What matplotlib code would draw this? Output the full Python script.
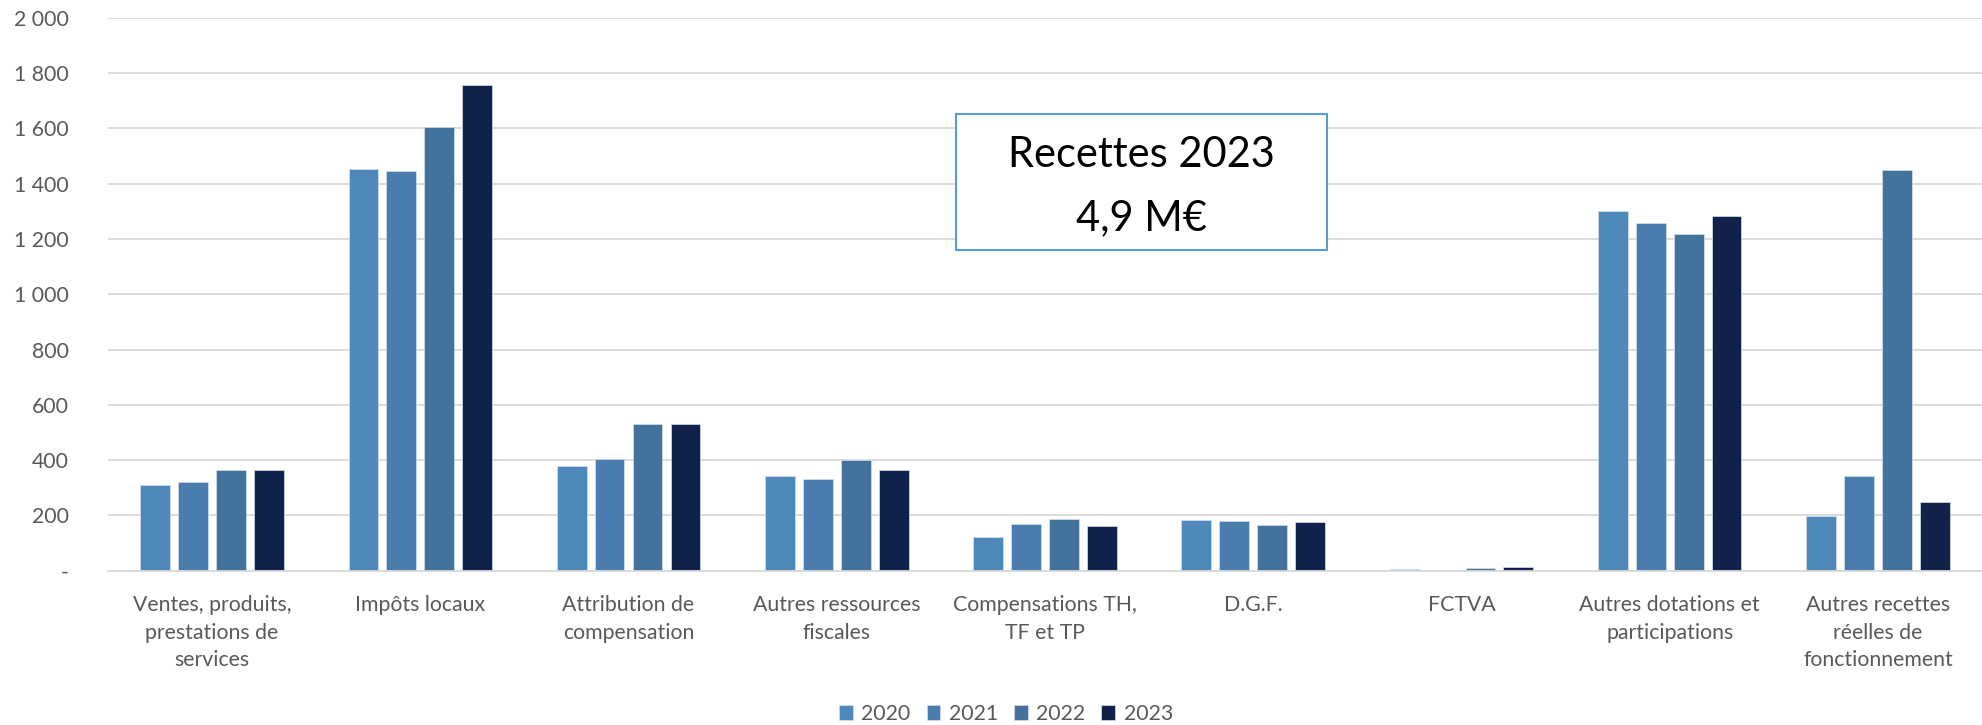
import numpy as np
import matplotlib
matplotlib.use('Agg')
import matplotlib.pyplot as plt
from matplotlib.ticker import FuncFormatter, MultipleLocator
from matplotlib.patches import Rectangle

plt.rcParams['font.family'] = ['Lato', 'DejaVu Sans']

categories = ['Ventes, produits,\nprestations de\nservices', 'Impôts locaux',
              'Attribution de\ncompensation', 'Autres ressources\nfiscales',
              'Compensations TH,\nTF et TP', 'D.G.F.', 'FCTVA',
              'Autres dotations et\nparticipations',
              'Autres recettes\nréelles de\nfonctionnement']
years = ['2020', '2021', '2022', '2023']
v2020 = [310, 1452, 378, 342, 122, 184, 5, 1301, 198]
v2021 = [322, 1447, 403, 333, 170, 178, 4, 1257, 342]
v2022 = [364, 1604, 529, 399, 188, 167, 8, 1218, 1449]
v2023 = [365, 1758, 529, 364, 162, 176, 13, 1283, 250]
colors = ['#4F89BB', '#4A7DAE', '#43729D', '#10224B']

fig = plt.figure(figsize=(19.82, 7.25), dpi=100)
ax = fig.add_axes([108 / 1982, 154.3 / 725, 1874 / 1982, 553 / 725])

x = np.arange(len(categories))
pitch = 0.182
for i, vals in enumerate([v2020, v2021, v2022, v2023]):
    ax.bar(x + (i - 1.5) * pitch, vals, width=0.143, color=colors[i],
           edgecolor='#D6E0EC', linewidth=0.5, label=years[i], zorder=3)

ax.set_xlim(-0.5, 8.5)
ax.set_ylim(0, 2000)
ax.yaxis.set_major_locator(MultipleLocator(200))
ax.yaxis.set_major_formatter(FuncFormatter(
    lambda v, p: '-' if v == 0 else '{:,}'.format(int(v)).replace(',', ' ')))
ax.grid(axis='y', color='#D9D9D9', linewidth=1.3, zorder=0)
for s in ['top', 'right', 'left']:
    ax.spines[s].set_visible(False)
ax.spines['bottom'].set_color('#D9D9D9')
ax.spines['bottom'].set_linewidth(1.3)
ax.spines['bottom'].set_zorder(4)
ax.set_xticks(x)
ax.set_xticklabels(categories, linespacing=1.47)
ax.tick_params(axis='both', length=0, labelsize=15.3, colors='#595959')
ax.tick_params(axis='y', pad=28)
ax.tick_params(axis='x', pad=17.5)

leg = fig.legend(loc='center', bbox_to_anchor=(1006 / 1982, 1 - 714 / 725), ncol=4,
                 frameon=False, fontsize=15.3, handlelength=0.65, handleheight=0.65,
                 handletextpad=0.4, columnspacing=0.75)
for t in leg.get_texts():
    t.set_color('#595959')

# encadré total
fig.patches.append(Rectangle((955.7 / 1982, 1 - 250 / 725), 371 / 1982, 136 / 725,
                             transform=fig.transFigure, facecolor='white',
                             edgecolor='#5B9BD5', linewidth=1.5, zorder=5))
fig.text(1141 / 1982, 1 - 155 / 725, 'Recettes 2023', ha='center', va='center',
         fontsize=30, color='black', zorder=6)
fig.text(1141 / 1982, 1 - 218 / 725, '4,9 M€', ha='center', va='center',
         fontsize=30, color='black', zorder=6)

fig.savefig('out.png', dpi=100)
